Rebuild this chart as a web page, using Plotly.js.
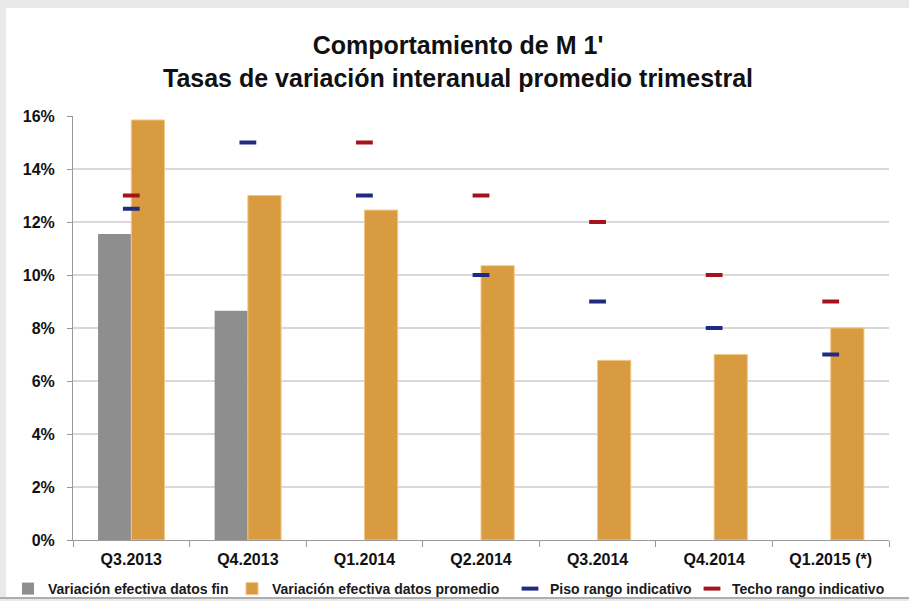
<!DOCTYPE html>
<html><head><meta charset="utf-8">
<script src="https://cdn.plot.ly/plotly-3.0.1.min.js"></script>
<style>html,body{margin:0;padding:0;background:#e9e9e9}#c{width:909px;height:601px}</style>
</head><body><div id="c"></div>
<script>
const categories = ["Q3.2013","Q4.2013","Q1.2014","Q2.2014","Q3.2014","Q4.2014","Q1.2015 (*)"];
const efectivaFin = [11.55, 8.65, null, null, null, null, null];
const efectivaPromedio = [15.85, 13.0, 12.45, 10.35, 6.78, 7.0, 8.0];
const pisoRango = [12.5, 15.0, 13.0, 10.0, 9.0, 8.0, 7.0];
const techoRango = [13.0, null, 15.0, 13.0, 12.0, 10.0, 9.0];
const seriesNames = ["Variación efectiva datos fin","Variación efectiva datos promedio","Piso rango indicativo","Techo rango indicativo"];

const L = 73, R = 889, T = 116, B = 540;
const W = R - L, H = B - T;
const px = x => (x - L) / W;
const py = y => (B - y) / H;

const legFont = {family: "Liberation Sans, Arial, sans-serif", size: 14, weight: "bold", color: "#1a1a1a"};
function leg(xpix) {
  return {orientation: "h", xref: "container", yref: "container", x: xpix / 909, y: 1 - 573 / 601,
    xanchor: "left", yanchor: "top", bgcolor: "rgba(0,0,0,0)", font: legFont, itemwidth: 30,
    tracegroupgap: 0, itemclick: false};
}

const traces = [
  {type: "bar", name: seriesNames[0], x: categories, y: efectivaFin, marker: {color: "#8e8e8e"}, legend: "legend"},
  {type: "bar", name: seriesNames[1], x: categories, y: efectivaPromedio, marker: {color: "#d99b3f", line: {color: "#f0c88a", width: 1}}, legend: "legend2"},
  {type: "scatter", mode: "markers", name: seriesNames[2], x: categories, y: pisoRango,
   marker: {symbol: "line-ew", size: 12, line: {width: 4, color: "#1f2a80"}}, legend: "legend3"},
  {type: "scatter", mode: "markers", name: seriesNames[3], x: categories, y: techoRango,
   marker: {symbol: "line-ew", size: 12, line: {width: 4, color: "#a4121c"}}, legend: "legend4"}
];

const tickFont = {family: "Liberation Sans, Arial, sans-serif", size: 16, weight: "bold", color: "#111"};

const layout = {
  width: 909, height: 601,
  margin: {l: L, r: 909 - R, t: T, b: 601 - B, pad: 0},
  paper_bgcolor: "#e9e9e9",
  plot_bgcolor: "rgba(0,0,0,0)",
  title: {text: "Comportamiento de M 1'<br>Tasas de variación interanual promedio trimestral",
    font: {family: "Liberation Sans, Arial, sans-serif", size: 25, weight: "bold", color: "#111"},
    xref: "container", yref: "container", x: 458/909, xanchor: "center", y: 1 - 54/601, yanchor: "middle"},
  barmode: "group", bargap: 0.43, bargroupgap: 0,
  xaxis: {type: "category", tickfont: tickFont, showgrid: false, showline: true, linecolor: "#9a9a9a", linewidth: 1,
    ticks: "outside", tickson: "boundaries", ticklen: 6, tickcolor: "#9a9a9a", ticklabelstandoff: 5, fixedrange: true, automargin: false},
  yaxis: {range: [0, 16], dtick: 2, ticksuffix: "%", tickfont: tickFont, showgrid: true, gridcolor: "#d9d9d9", gridwidth: 1.5,
    showline: true, linecolor: "#9a9a9a", linewidth: 1, ticks: "outside", ticklen: 5, tickcolor: "#9a9a9a",
    ticklabelstandoff: 9, zeroline: false, fixedrange: true, automargin: false},
  showlegend: true,
  legend: leg(8), legend2: leg(232), legend3: leg(510), legend4: leg(692),
  shapes: [
    {type: "rect", xref: "paper", yref: "paper", layer: "below",
     x0: px(6), x1: px(909), y0: py(597), y1: py(8), fillcolor: "#ffffff", line: {width: 0}},
    {type: "line", xref: "paper", yref: "paper", layer: "below",
     x0: px(0), x1: px(909), y0: py(598), y1: py(598), line: {color: "#9a9a9a", width: 1.5}}
  ]
};

Plotly.newPlot("c", traces, layout, {displayModeBar: false, staticPlot: true});
</script></body></html>
